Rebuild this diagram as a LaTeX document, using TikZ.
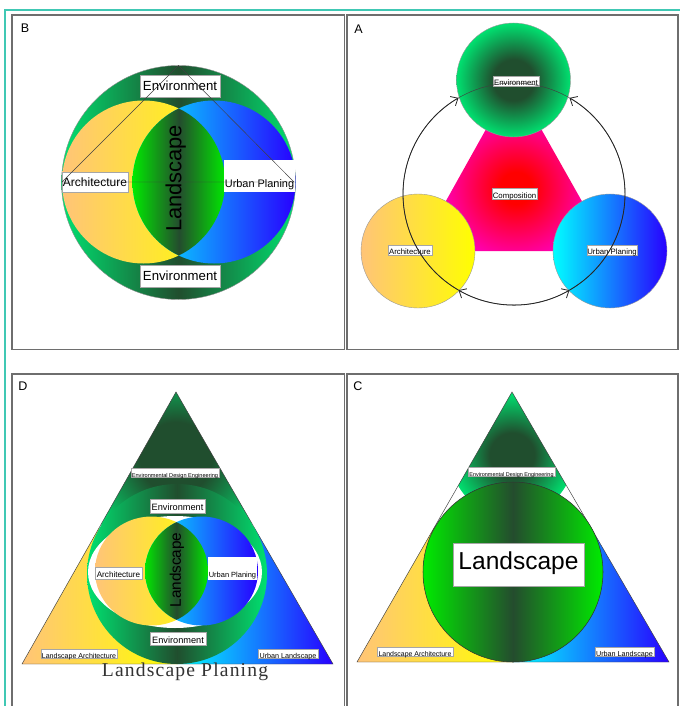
\documentclass[tikz,border=0pt]{standalone}
\usepackage{fontspec}
\setmainfont{Liberation Sans}
\newfontfamily\plfont{Liberation Serif}[LetterSpace=6]
\usetikzlibrary{arrows.meta}
\definecolor{tealf}{RGB}{64,200,180}
\definecolor{frameg}{RGB}{110,110,110}
\definecolor{envL}{RGB}{0,225,112}
\definecolor{envD}{RGB}{32,78,46}
\definecolor{lensL}{RGB}{0,235,0}
\definecolor{lensD}{RGB}{36,76,46}
\definecolor{yelL}{RGB}{255,196,120}
\definecolor{yelR}{RGB}{255,255,0}
\definecolor{bluL}{RGB}{0,255,255}
\definecolor{bluR}{RGB}{40,0,255}
\definecolor{magO}{RGB}{255,0,200}
\definecolor{redC}{RGB}{255,0,0}
\pgfdeclareradialshading{envrad}{\pgfpoint{0bp}{0bp}}{color(0bp)=(envD); color(9bp)=(envD); color(25bp)=(envL); color(50bp)=(envL)}
\pgfdeclareradialshading{magrad}{\pgfpoint{0bp}{0bp}}{color(0bp)=(redC); color(5bp)=(redC); color(25bp)=(magO); color(50bp)=(magO)}
\tikzset{
  fs/.style={font=\fontsize{#1}{#1}\selectfont},
  lbl/.style={fill=white, draw=black!35, line width=0.3pt, inner sep=0pt, text height=0.72em, text depth=0pt},
  wh/.style 2 args={minimum width=#1*0.75pt, minimum height=#2*0.75pt},
  bare/.style={inner sep=0pt, text height=0.72em, text depth=0pt},
  panel/.style={draw=frameg, line width=1.1pt},
  thinline/.style={draw=black!75, line width=0.35pt},
  arrline/.style={draw=black!85, line width=0.6pt, -{Straight Barb[length=4.5pt,width=8pt]}},
  arrboth/.style={draw=black!85, line width=0.6pt, {Straight Barb[length=4.5pt,width=8pt]}-{Straight Barb[length=4.5pt,width=8pt]}},
  yel/.style={left color=yelL, right color=yelR},
  blu/.style={left color=bluL, right color=bluR},
  lens/.style={left color=lensL, right color=lensL, middle color=lensD},
  ring/.style={left color=envL, right color=envL, middle color=envD},
}
\begin{document}
\begin{tikzpicture}[x=0.75pt, y=-0.75pt]
\useasboundingbox (0,0) rectangle (680,706);
\clip (0,0) rectangle (680,706);
\fill[white] (0,0) rectangle (680,706);
% frames
\draw[tealf, line width=1.5pt] (5,720) -- (5,10) -- (690,10);
\draw[panel] (12,15) rectangle (344.5,349.5);
\draw[panel] (347,15) rectangle (678,349.5);
\draw[panel] (12,374) rectangle (344.5,720);
\draw[panel] (347,374) rectangle (678,720);

% ---------- Panel B ----------
\node[fs=9.4, bare] (Blet) at (25,27.5) {B};
\coordinate (Bc) at (178.5,182.5);
\shade[ring, draw=black!45, line width=0.3pt] (Bc) circle[radius=117];
\coordinate (By) at (143.5,182);
\coordinate (Bb) at (214,182);
\shade[yel] (By) circle[radius=81.5];
\shade[blu] (Bb) circle[radius=81.5];
\begin{scope}
  \clip (By) circle[radius=81.5];
  \clip (Bb) circle[radius=81.5];
  \shade[lens] (132,100) rectangle (226,264);
\end{scope}
\node[lbl, fs=9.9, wh={80}{22}] (BenvT) at (180,86) {Environment};
\node[lbl, fs=9.9, wh={80}{22}] (BenvB) at (180,276) {Environment};
\node[lbl, fs=9, wh={66}{20}] (Barch) at (95,182) {Architecture};
\node[fill=white, inner sep=0pt, wh={71}{32}] (BurbBox) at (259.5,176) {};
\node[bare, fs=8.2] (Burb) at (259.5,183) {Urban Planing};
\coordinate (Btop) at (178.5,65.5);
\coordinate (Bl) at (62,182);
\coordinate (Br) at (294,182);
\draw[thinline] (Bl) -- (Btop) -- (Br) -- cycle;
\node[bare, fs=16.4, rotate=90] (Bland) at (176.5,178.5) {Landscape};

% ---------- Panel A ----------
\node[fs=9.4, bare] (Alet) at (358.5,29) {A};
\coordinate (Ag) at (513.5,80);
\coordinate (Ay) at (418,251);
\coordinate (Ab) at (610,251);
\begin{scope}
  \clip (Ag) -- (Ay) -- (Ab) -- cycle;
  \shade[shading=magrad] (516,188) circle[radius=80];
\end{scope}
\shade[shading=envrad, draw=black!40, line width=0.3pt] (Ag) circle[radius=57];
\shade[yel, draw=black!40, line width=0.3pt] (Ay) circle[radius=57];
\shade[blu, draw=black!40, line width=0.3pt] (Ab) circle[radius=57];
\node[lbl, fs=5.85, wh={46}{10}] (Aenv) at (516,81) {Environment};
\node[lbl, fs=5.85, wh={45}{11}] (Acomp) at (514.5,193.5) {Composition};
\node[lbl, fs=5.85, wh={44}{10}] (Aarch) at (410,250) {Architecture};
\node[lbl, fs=5.85, wh={50}{10}] (Aurb) at (612,250) {Urban Planing};
\coordinate (Acc) at (514,194);
\draw[thinline] (Acc) circle[radius=111];
\draw[arrline] (Acc) ++(-240:111) arc[start angle=-240, end angle=-120, radius=111];
\draw[arrline] (Acc) ++(60:111) arc[start angle=60, end angle=-60, radius=111];
\draw[arrboth] (Acc) ++(-240:111) arc[start angle=-240, end angle=-300, radius=111];

% ---------- Panel C ----------
\node[fs=9.4, bare] (Clet) at (358,385.5) {C};
\coordinate (Ct) at (512,392);
\coordinate (Cl) at (357,662);
\coordinate (Cr) at (669,662);
\coordinate (Cml) at (434.5,527);
\coordinate (Cmr) at (590.5,527);
\coordinate (Cmb) at (513,662);
\begin{scope}
  \clip (Ct) -- (Cml) -- (Cmr) -- cycle;
  \shade[shading=envrad] (512,455) circle[radius=62];
\end{scope}
\shade[yel] (Cl) -- (Cmb) -- (Cml) -- cycle;
\shade[blu] (Cmb) -- (Cr) -- (Cmr) -- cycle;
\draw[thinline] (Ct) -- (Cl) -- (Cr) -- cycle;
\coordinate (Cc) at (513,572);
\shade[lens, draw=black!80, line width=0.4pt] (Cc) circle[radius=90];
\node[lbl, fs=4.1, wh={87}{8}] (Cede) at (511.5,471.5) {Environmental Design Engineering};
\node[lbl, fs=18.4, wh={131}{43}] (Cland) at (518.5,564.5) {Landscape};
\node[lbl, fs=5.2, wh={76}{9}] (Cla) at (415,651.5) {Landscape Architecture};
\node[lbl, fs=5.4, wh={59}{9}] (Cul) at (624.5,651.5) {Urban Landscape};

% ---------- Panel D ----------
\node[fs=9.4, bare] (Dlet) at (23,385.5) {D};
\coordinate (Dt) at (176,392);
\coordinate (Dl) at (22,664);
\coordinate (Dr) at (333,664);
\coordinate (Dml) at (99,528);
\coordinate (Dmr) at (254.5,528);
\coordinate (Dmb) at (177.5,664);
\begin{scope}
  \clip (Dt) -- (Dml) -- (Dmr) -- cycle;
  \shade[shading=envrad] (176,458) circle[radius=100];
\end{scope}
\shade[yel] (Dl) -- (Dmb) -- (Dml) -- cycle;
\shade[blu] (Dmb) -- (Dr) -- (Dmr) -- cycle;
\draw[thinline] (Dt) -- (Dl) -- (Dr) -- cycle;
\coordinate (Dc) at (177,574);
\shade[ring] (Dc) circle[radius=90];
\fill[white] (175,572) ellipse[x radius=87, y radius=56];
\coordinate (Dy) at (151.5,571);
\coordinate (Db) at (201.5,571);
\shade[yel] (Dy) ellipse[x radius=56.5, y radius=54.5];
\shade[blu] (Db) ellipse[x radius=56.5, y radius=54.5];
\begin{scope}
  \clip (Dy) ellipse[x radius=56.5, y radius=54.5];
  \clip (Db) ellipse[x radius=56.5, y radius=54.5];
  \shade[lens] (144,515) rectangle (209,627);
\end{scope}
\node[lbl, fs=4.2, wh={88}{7}] (Dede) at (175,472.5) {Environmental Design Engineering};
\node[lbl, fs=6.9, wh={55}{14}] (DenvT) at (177.5,506) {Environment};
\node[lbl, fs=6.9, wh={56}{13}] (DenvB) at (178,638.5) {Environment};
\node[lbl, fs=6.1, wh={47}{12}] (Darch) at (118.5,573) {Architecture};
\node[fill=white, inner sep=0pt, wh={49}{23}] (DurbBox) at (232.5,568.5) {};
\node[bare, fs=5.6] (Durb) at (232.5,573) {Urban Planing};
\node[bare, fs=11.5, rotate=90] (Dland) at (176,570) {Landscape};
\node[lbl, fs=5.3, wh={76}{9}] (Dla) at (79,653.5) {Landscape Architecture};
\node[lbl, fs=5.4, wh={60}{9}] (Dul) at (288,653.5) {Urban Landscape};
\node[bare, fs=14.7, text=black!80] (Dplan) at (185,672) {\plfont Landscape Planing};
\end{tikzpicture}
\end{document}
